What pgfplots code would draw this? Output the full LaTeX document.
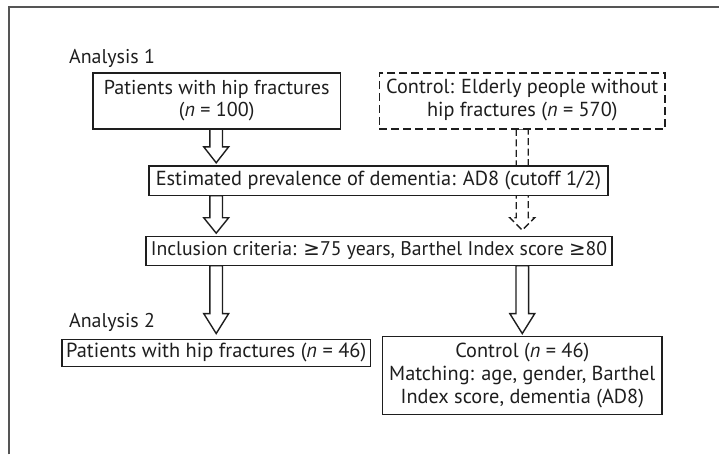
\documentclass[border=0pt]{standalone}
\usepackage{pgfplots}
\pgfplotsset{compat=1.18}
\usepackage{graphicx}
\usepackage{fontspec}
\setmainfont{PT Sans}
\newfontfamily\symf{DejaVu Sans}
\definecolor{ln}{HTML}{1E1E1E}
\definecolor{fr}{HTML}{555555}
\newcommand{\fit}[2]{\resizebox{#1pt}{!}{\begin{tabular}{@{}c@{}}#2\end{tabular}}}
\begin{document}
\begin{tikzpicture}[
  bx/.style={draw=ln, line width=1.5pt, fill=white, inner sep=0pt, align=center, text=ln,
    font={\fontsize{19}{21.5}\selectfont}},
  lab/.style={inner sep=0pt, text=ln, font={\fontsize{19}{21}\selectfont}}]
\begin{axis}[
  width=720pt, height=455pt, scale only axis,
  xmin=0, xmax=720, ymin=0, ymax=455, y dir=reverse,
  hide axis, clip=false]
\path (axis cs:0,0) rectangle (axis cs:720,455);
% outer frame (cropped at right and bottom)
\addplot[fr, line width=2pt, mark=none] coordinates {(9.5,455) (9.5,7.5) (720,7.5)};
% dashed hollow arrow: control -> inclusion criteria
\addplot[ln, line width=1.4pt, dash pattern=on 7pt off 3.5pt, fill=white, mark=none] coordinates {
 (517,129) (517,218) (510.5,218) (523,230.5) (535.5,218) (529,218) (529,129)} -- cycle;
% hollow arrows
\addplot[ln, line width=1.4pt, fill=white, mark=none] coordinates {
 (210.2,129) (210.2,147) (204,147) (216.5,163) (229,147) (222.8,147) (222.8,129)} -- cycle;
\addplot[ln, line width=1.4pt, fill=white, mark=none] coordinates {
 (210.2,196) (210.2,218) (204,218) (216.5,233.5) (229,218) (222.8,218) (222.8,196)} -- cycle;
\addplot[ln, line width=1.4pt, fill=white, mark=none] coordinates {
 (210.2,266) (210.2,314) (204,314) (216.5,334) (229,314) (222.8,314) (222.8,266)} -- cycle;
\addplot[ln, line width=1.4pt, fill=white, mark=none] coordinates {
 (516.7,266) (516.7,314) (510.5,314) (523,334) (535.5,314) (529.3,314) (529.3,266)} -- cycle;
% boxes
\node[bx, minimum width=248pt, minimum height=56pt] at (axis cs:217,101)
  {\fit{226}{Patients with hip fractures\\(\textit{n} = 100)}};
\node[bx, dash pattern=on 8pt off 4pt, minimum width=286pt, minimum height=56pt] at (axis cs:523,101)
  {\fit{272.5}{Control: Elderly people without\\hip fractures (\textit{n} = 570)}};
\node[bx, minimum width=460pt, minimum height=30pt] at (axis cs:379,181)
  {\fit{446}{Estimated prevalence of dementia: AD8 (cutoff 1/2)}};
\node[bx, minimum width=467pt, minimum height=29pt] at (axis cs:379.5,251.5)
  {\fit{457}{Inclusion criteria: {\symf ≥}75 years, Barthel Index score {\symf ≥}80}};
\node[bx, minimum width=309pt, minimum height=27pt] at (axis cs:216.5,353.5)
  {\fit{300.5}{Patients with hip fractures (\textit{n} = 46)}};
\node[bx, minimum width=280pt, minimum height=78pt] at (axis cs:523,376)
  {\fit{266.5}{Control (\textit{n} = 46)\\Matching: age, gender, Barthel\\Index score, dementia (AD8)}};
% labels
\node[lab, anchor=base west] at (axis cs:69,63.5) {\resizebox{86pt}{!}{Analysis 1}};
\node[lab, anchor=base west] at (axis cs:69,327.5) {\resizebox{86pt}{!}{Analysis 2}};
\end{axis}
\end{tikzpicture}
\end{document}
